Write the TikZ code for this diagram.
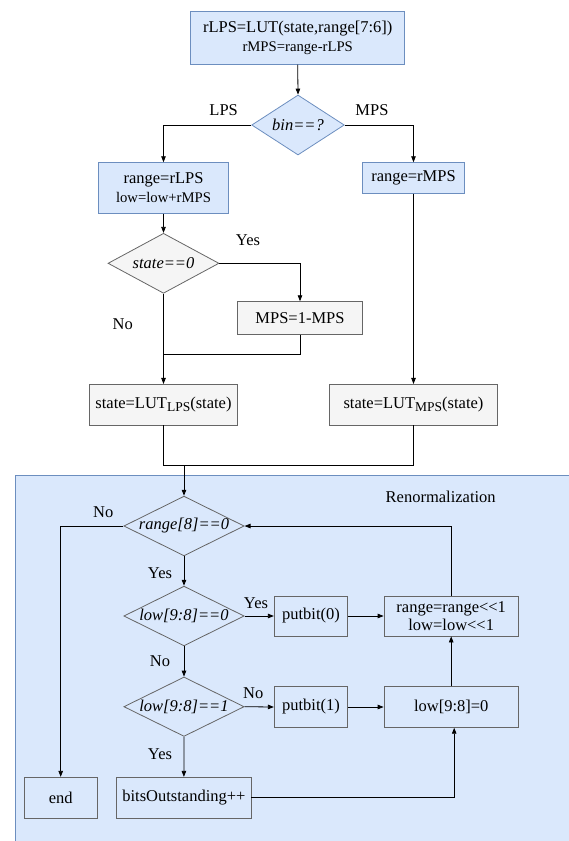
\documentclass[tikz,border=0pt]{standalone}
\usepackage{fontspec}
\setmainfont{Liberation Serif}
\newfontfamily\tnr{Liberation Serif}
\usetikzlibrary{shapes.geometric,arrows.meta}
\definecolor{bfill}{HTML}{DAE8FC}
\definecolor{bdraw}{HTML}{6C8EBF}
\definecolor{gfill}{HTML}{F5F5F5}
\definecolor{gdraw}{HTML}{666666}
\newcommand{\secline}{\fontsize{14.7}{17}\selectfont}
\newcommand{\subtxt}[1]{\raisebox{-0.4ex}{\fontsize{13.5}{14}\selectfont #1}}
\tikzset{
  base/.style={font=\tnr\fontsize{16.5}{20}\selectfont, inner sep=0pt, align=center},
  bluebox/.style={base, rectangle, draw=bdraw, fill=bfill, line width=0.8pt},
  graybox/.style={base, rectangle, draw=gdraw, fill=gfill, line width=0.8pt},
  plainbox/.style={base, rectangle, draw=gdraw, line width=0.8pt},
  bluedia/.style={base, diamond, draw=bdraw, fill=bfill, line width=0.8pt, inner sep=0pt},
  graydia/.style={base, diamond, draw=gdraw, fill=gfill, line width=0.8pt, inner sep=0pt},
  plaindia/.style={base, diamond, draw=gdraw, line width=0.8pt, inner sep=0pt},
  lbl/.style={base},
  conn/.style={draw=black, line width=0.8pt},
  arr/.style={conn, -{Triangle[length=6pt,width=4.5pt]}},
}
\begin{document}
\begin{tikzpicture}[x=1pt,y=-1pt]
\useasboundingbox (0,0) rectangle (568,841);
% Renormalization background
\path[fill=bfill, draw=bdraw, line width=1pt] (15,475) rectangle (580,860);
\node[lbl] (renlbl) at (440.7,496.7) {Renormalization};

% upper part
\node[bluebox, minimum width=214pt, minimum height=52.6pt] (top) at (297.7,38) {rLPS=LUT(state,range[7:6])\\[-1pt]{\secline rMPS=range-rLPS}};
\node[bluedia, minimum width=92.6pt, minimum height=60pt, label={[base]center:\itshape bin==?}] (bin) at (298,125) {};
\node[bluebox, minimum width=130pt, minimum height=50.6pt] (lpsbox) at (163.5,188) {range=rLPS\\[-1pt]{\secline low=low+rMPS}};
\node[bluebox, minimum width=101.3pt, minimum height=30.6pt] (mpsbox) at (413.5,178) {range=rMPS};
\node[graydia, minimum width=111pt, minimum height=60pt, label={[base]center:\itshape state==0}] (sdia) at (163.5,263.3) {};
\node[graybox, minimum width=125.4pt, minimum height=32.6pt] (flip) at (300,318) {MPS=1-MPS};
\node[graybox, minimum width=148.7pt, minimum height=40.7pt] (lutl) at (163.5,404.7) {state=LUT\subtxt{LPS}(state)};
\node[graybox, minimum width=167.3pt, minimum height=40.7pt] (lutm) at (413.5,404.7) {state=LUT\subtxt{MPS}(state)};

\node[lbl] (lLPS) at (223.7,110) {LPS};
\node[lbl] (lMPS) at (372,110) {MPS};
\node[lbl] (lYes1) at (248,240) {Yes};
\node[lbl] (lNo1) at (122.7,324) {No};

\coordinate (m1) at (163.5,354.3);
\coordinate (m2) at (184,465);

\draw[arr] (top.south) -- (bin.north);
\draw[arr] (bin.west) -| (lpsbox.north);
\draw[arr] (bin.east) -| (mpsbox.north);
\draw[arr] (lpsbox.south) -- (sdia.north);
\draw[arr] (sdia.east) -| (flip.north);
\draw[arr] (sdia.south) -- (lutl.north);
\draw[conn] (flip.south) |- (m1);
\draw[arr] (mpsbox.south) -- (lutm.north);
\draw[conn] (lutl.south) |- (lutm.south |- m2) -- (lutm.south);

% renormalization
\node[plaindia, minimum width=120.3pt, minimum height=59.7pt, label={[base]center:\itshape range[8]==0}] (r8) at (184,526) {};
\node[plaindia, minimum width=120.3pt, minimum height=59.7pt, label={[base]center:\itshape low[9:8]==0}] (lo0) at (184,616) {};
\node[plaindia, minimum width=120.3pt, minimum height=59.4pt, label={[base]center:\itshape low[9:8]==1}] (lo1) at (184,706.7) {};
\node[plainbox, minimum width=73.4pt, minimum height=40pt] (pb0) at (311,616) {putbit(0)};
\node[plainbox, minimum width=73.4pt, minimum height=40.6pt] (pb1) at (311,707) {putbit(1)};
\node[plainbox, minimum width=134.3pt, minimum height=40pt] (sh) at (451.2,616) {range=range<{}<1\\[-2pt]low=low<{}<1};
\node[plainbox, minimum width=134.3pt, minimum height=40.6pt] (clr) at (451.2,707) {low[9:8]=0};
\node[plainbox, minimum width=134.3pt, minimum height=41pt] (bo) at (183.9,797.8) {bitsOutstanding++};
\node[plainbox, minimum width=73.3pt, minimum height=41pt] (endb) at (60.7,797.8) {end};

\node[lbl] (lNo2) at (103.3,511.7) {No};
\node[lbl] (lYes2) at (160,573.3) {Yes};
\node[lbl] (lYes3) at (256,603.3) {Yes};
\node[lbl] (lNo3) at (160,660.7) {No};
\node[lbl] (lNo4) at (253.3,693.3) {No};
\node[lbl] (lYes4) at (160,754.3) {Yes};

\draw[arr] (m2) -- (r8.north);
\draw[arr] (r8.west) -| (endb.north);
\draw[arr] (r8.south) -- (lo0.north);
\draw[arr] (lo0.east) -- (pb0.west);
\draw[arr] (pb0.east) -- (sh.west);
\draw[arr] (sh.north) |- (r8.east);
\draw[arr] (lo0.south) -- (lo1.north);
\draw[arr] (lo1.east) -- (pb1.west);
\draw[arr] (pb1.east) -- (clr.west);
\draw[arr] (clr.north) -- (sh.south);
\draw[arr] (lo1.south) -- (bo.north);
\draw[arr] (bo.east) -| ([xshift=3pt]clr.south);
\end{tikzpicture}
\end{document}
